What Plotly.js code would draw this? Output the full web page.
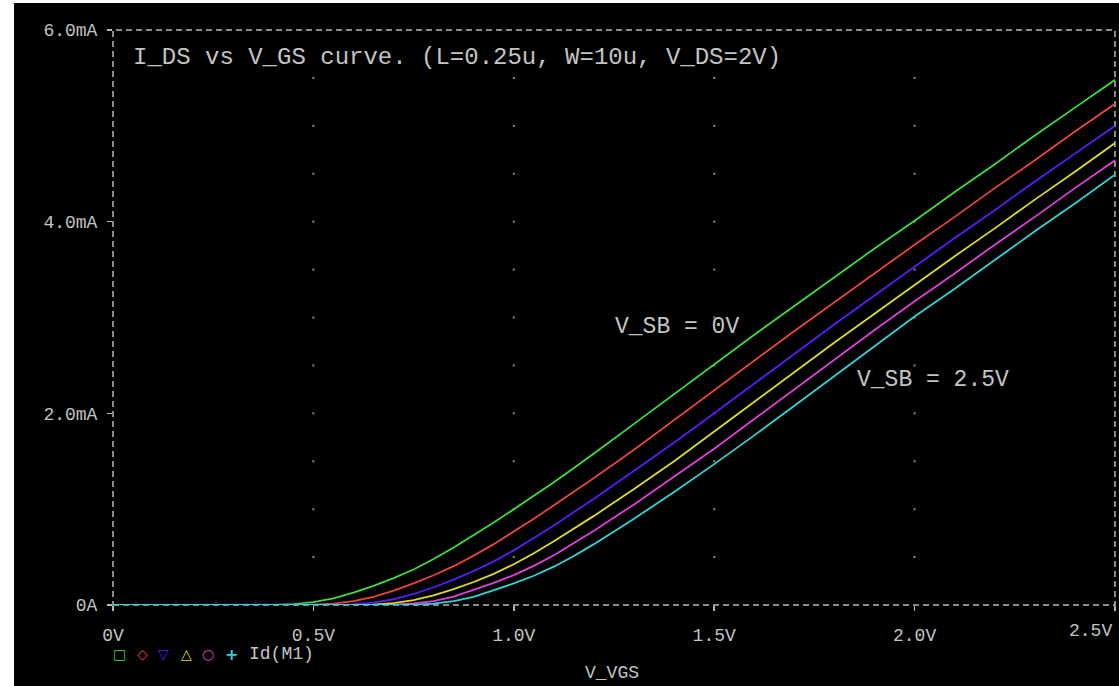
<!DOCTYPE html>
<html>
<head>
<meta charset="utf-8">
<script src="https://cdn.plot.ly/plotly-3.0.1.min.js"></script>
<style>
  html, body { margin: 0; padding: 0; background: #000; }
  #chart { width: 1119px; height: 686px; }
</style>
</head>
<body>
<div id="chart"></div>
<script>
// Sweep voltage V_GS (V)
const vgs = [0, 0.1, 0.2, 0.3, 0.4, 0.45, 0.5, 0.55, 0.6, 0.65, 0.7, 0.75, 0.8, 0.85, 0.9, 0.95, 1.0, 1.05, 1.1, 1.15, 1.2,
             1.3, 1.4, 1.5, 1.6, 1.7, 1.8, 1.9, 2.0, 2.1, 2.2, 2.3, 2.4, 2.5];

// Drain current I_DS (mA) for each V_SB
const idVsb0   = [0, 0, 0, 0, 0, 0.01, 0.03, 0.07, 0.13, 0.20, 0.28, 0.37, 0.48, 0.60, 0.73, 0.86, 1.00, 1.14, 1.28, 1.43, 1.58,
                  1.89, 2.20, 2.51, 2.82, 3.12, 3.42, 3.72, 4.01, 4.31, 4.60, 4.90, 5.19, 5.48];
const idVsb05  = [0, 0, 0, 0, 0, 0, 0.003, 0.015, 0.04, 0.085, 0.15, 0.225, 0.31, 0.405, 0.515, 0.635, 0.765, 0.9, 1.04, 1.18, 1.325,
                  1.62, 1.93, 2.24, 2.55, 2.86, 3.16, 3.46, 3.76, 4.05, 4.35, 4.64, 4.94, 5.23];
const idVsb10  = [0, 0, 0, 0, 0, 0, 0, 0, 0.007, 0.025, 0.06, 0.115, 0.185, 0.265, 0.355, 0.455, 0.57, 0.70, 0.83, 0.97, 1.11,
                  1.40, 1.695, 2.0, 2.31, 2.62, 2.93, 3.23, 3.53, 3.83, 4.12, 4.42, 4.71, 5.0];
const idVsb15  = [0, 0, 0, 0, 0, 0, 0, 0, 0, 0.004, 0.02, 0.05, 0.10, 0.165, 0.24, 0.325, 0.425, 0.54, 0.665, 0.795, 0.93,
                  1.21, 1.50, 1.81, 2.12, 2.43, 2.74, 3.04, 3.34, 3.64, 3.93, 4.23, 4.52, 4.82];
const idVsb20  = [0, 0, 0, 0, 0, 0, 0, 0, 0, 0, 0.003, 0.016, 0.04, 0.088, 0.155, 0.23, 0.312, 0.408, 0.52, 0.643, 0.775,
                  1.05, 1.34, 1.63, 1.94, 2.25, 2.56, 2.87, 3.17, 3.46, 3.76, 4.05, 4.35, 4.64];
const idVsb25  = [0, 0, 0, 0, 0, 0, 0, 0, 0, 0, 0, 0.002, 0.014, 0.04, 0.085, 0.152, 0.225, 0.305, 0.40, 0.512, 0.635,
                  0.90, 1.18, 1.47, 1.77, 2.08, 2.39, 2.70, 3.01, 3.30, 3.60, 3.90, 4.19, 4.49];

const seriesNames = ['V_SB=0V', 'V_SB=0.5V', 'V_SB=1.0V', 'V_SB=1.5V', 'V_SB=2.0V', 'V_SB=2.5V'];
const seriesData = [idVsb0, idVsb05, idVsb10, idVsb15, idVsb20, idVsb25];
const seriesColors = ['#3fdc3f', '#e8463c', '#5a1cff', '#dcdc28', '#e040dc', '#30d4d8'];
const legendSymbols = ['\u25A1', '\u25C7', '\u25BD', '\u25B3', '\u25CB', '+'];

// Axis ticks
const xTickVals = [0, 0.5, 1.0, 1.5, 2.0, 2.5];
const xTickText = ['0V', '0.5V', '1.0V', '1.5V', '2.0V', ''];
const yTickVals = [0, 2, 4, 6];
const yTickText = ['0A', '2.0mA', '4.0mA', '6.0mA'];

// Dotted grid positions
const gridX = [0.5, 1.0, 1.5, 2.0];
const gridY = [0.5, 1.0, 1.5, 2.0, 2.5, 3.0, 3.5, 4.0, 4.5, 5.0, 5.5];

const textColor = '#c4c4c4';
const mono = 'Liberation Mono, Courier New, monospace';

const gx = [], gy = [];
gridX.forEach(x => gridY.forEach(y => { gx.push(x); gy.push(y); }));

const traces = [{
  x: gx, y: gy, type: 'scatter', mode: 'markers',
  marker: { size: 2, color: '#8a8a8a', symbol: 'square' },
  hoverinfo: 'skip', showlegend: false
}];
seriesData.forEach((d, i) => {
  traces.push({
    x: vgs, y: d, type: 'scatter', mode: 'lines', name: seriesNames[i],
    line: { color: seriesColors[i], width: 1.8, shape: 'linear' },
    showlegend: false
  });
});

const annotations = [
  { xref: 'x', yref: 'y', x: 1.2475, y: 2.90, xanchor: 'left', yanchor: 'middle', showarrow: false,
    text: 'V_SB = 0V', font: { family: mono, size: 23, color: textColor } },
  { xref: 'x', yref: 'y', x: 1.851, y: 2.348, xanchor: 'left', yanchor: 'middle', showarrow: false,
    text: 'V_SB = 2.5V', font: { family: mono, size: 23, color: textColor } },
  { xref: 'paper', yref: 'paper', x: (1114 - 113) / 1002, y: -0.0450, xanchor: 'right', yanchor: 'middle', showarrow: false,
    text: '2.5V', font: { family: mono, size: 18, color: textColor } },
  { xref: 'paper', yref: 'paper', x: (612 - 113) / 1002, y: (605 - 673) / 575, xanchor: 'center', yanchor: 'middle', showarrow: false,
    text: 'V_VGS', font: { family: mono, size: 18, color: textColor } },
  { xref: 'paper', yref: 'paper', x: (247 - 113) / 1002, y: (605 - 654) / 575, xanchor: 'left', yanchor: 'middle', showarrow: false,
    text: 'Id(M1)', font: { family: mono, size: 18, color: textColor } }
];
const legendX = [119, 142, 163, 186, 208, 231];
legendSymbols.forEach((s, i) => {
  annotations.push({
    xref: 'paper', yref: 'paper', x: (legendX[i] - 113) / 1002, y: (605 - 654) / 575,
    xanchor: 'center', yanchor: 'middle', showarrow: false, text: '<b>' + s + '</b>',
    font: { family: 'DejaVu Sans', size: s === '+' ? 16 : 14, color: seriesColors[i] }
  });
});

const layout = {
  width: 1119, height: 686,
  margin: { l: 113, r: 4, t: 30, b: 81, pad: 0 },
  paper_bgcolor: '#000000', plot_bgcolor: '#000000',
  showlegend: false,
  title: {
    text: 'I_DS vs V_GS curve. (L=0.25u, W=10u, V_DS=2V)',
    font: { family: mono, size: 24, color: textColor },
    xref: 'paper', x: (133 - 113) / 1002, xanchor: 'left',
    yref: 'container', y: 1 - 56 / 686, yanchor: 'middle'
  },
  xaxis: {
    range: [0, 2.5], showgrid: false, zeroline: false, showline: false,
    ticks: 'outside', ticklen: 5, tickwidth: 1.5, tickcolor: '#b8b8b8',
    tickvals: xTickVals, ticktext: xTickText, ticklabelstandoff: 8,
    tickfont: { family: mono, size: 18, color: textColor },
    fixedrange: true
  },
  yaxis: {
    range: [0, 6], showgrid: false, zeroline: false, showline: false,
    ticks: 'outside', ticklen: 5, tickwidth: 1.5, tickcolor: '#b8b8b8',
    tickvals: yTickVals, ticktext: yTickText, ticklabelstandoff: 6,
    tickfont: { family: mono, size: 18, color: textColor },
    fixedrange: true
  },
  shapes: [
    { type: 'rect', xref: 'paper', yref: 'paper', x0: 0, x1: 1, y0: 0, y1: 1, layer: 'below',
      line: { color: '#b8b8b8', width: 1.5, dash: '6px,4px' } },
    { type: 'rect', xref: 'paper', yref: 'paper', x0: -0.13, x1: (14 - 113) / 1002, y0: -0.2, y1: 1.1, layer: 'above',
      fillcolor: '#ffffff', line: { width: 0 } },
    { type: 'rect', xref: 'paper', yref: 'paper', x0: -0.13, x1: 1.01, y0: (605 - 3) / 575, y1: 1.1, layer: 'above',
      fillcolor: '#ffffff', line: { width: 0 } }
  ],
  annotations: annotations
};

Plotly.newPlot('chart', traces, layout, { displayModeBar: false, staticPlot: true });
</script>
</body>
</html>
